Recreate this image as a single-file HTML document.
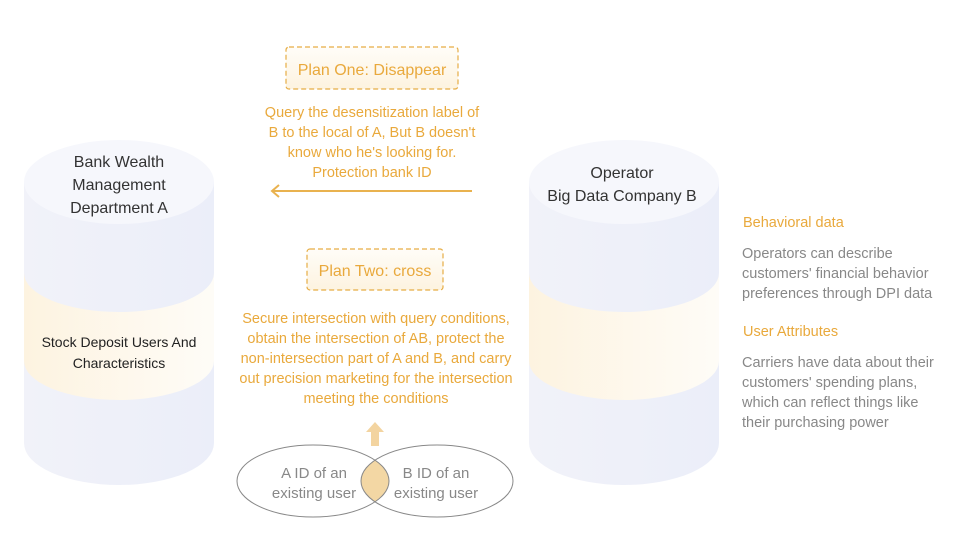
<!DOCTYPE html>
<html><head><meta charset="utf-8"><style>
html,body{margin:0;padding:0;background:#fff;}
svg{display:block;font-family:"Liberation Sans",sans-serif;}
</style></head><body>
<svg width="956" height="560" viewBox="0 0 956 560" xmlns="http://www.w3.org/2000/svg">
<defs>
<linearGradient id="body" x1="0" x2="1" y1="0" y2="0">
<stop offset="0" stop-color="#f1f2f9"/><stop offset="1" stop-color="#ebeef9"/></linearGradient>
<linearGradient id="band" x1="0" x2="1" y1="0" y2="0">
<stop offset="0" stop-color="#fdf3e0"/><stop offset="1" stop-color="#fefcf7"/></linearGradient>
<linearGradient id="box" x1="0" x2="0" y1="0" y2="1">
<stop offset="0" stop-color="#fffdf8"/><stop offset="1" stop-color="#fdf3e0"/></linearGradient>
</defs>
<g>
<path d="M24 182 L24 443 A95 42 0 0 0 214 443 L214 182 Z" fill="url(#body)"/>
<path d="M24 273 A95 39 0 0 0 214 273 L214 361 A95 39 0 0 1 24 361 Z" fill="url(#band)"/>
<ellipse cx="119" cy="182" rx="95" ry="42" fill="#f6f7fc"/>
</g>
<g>
<path d="M529 182 L529 443 A95 42 0 0 0 719 443 L719 182 Z" fill="url(#body)"/>
<path d="M529 273 A95 39 0 0 0 719 273 L719 361 A95 39 0 0 1 529 361 Z" fill="url(#band)"/>
<ellipse cx="624" cy="182" rx="95" ry="42" fill="#f6f7fc"/>
</g>
<g fill="#333" font-size="16" text-anchor="middle">
<text x="119" y="167">Bank Wealth</text>
<text x="119" y="190">Management</text>
<text x="119" y="213">Department A</text>
<text x="622" y="178">Operator</text>
<text x="622" y="201">Big Data Company B</text>
</g>
<g fill="#222" font-size="14" text-anchor="middle">
<text x="119" y="347">Stock Deposit Users And</text>
<text x="119" y="368">Characteristics</text>
</g>
<rect x="286" y="47" width="172" height="42" rx="3" fill="url(#box)" stroke="#e6ad45" stroke-width="1.2" stroke-dasharray="5,3"/>
<rect x="307" y="249" width="136" height="41" rx="3" fill="url(#box)" stroke="#e6ad45" stroke-width="1.2" stroke-dasharray="5,3"/>
<g fill="#e9a93c" text-anchor="middle">
<text x="372" y="75" font-size="16">Plan One: Disappear</text>
<text x="375" y="276" font-size="16">Plan Two: cross</text>
<g font-size="14.5">
<text x="372" y="117">Query the desensitization label of</text>
<text x="372" y="137">B to the local of A, But B doesn't</text>
<text x="372" y="157">know who he's looking for.</text>
<text x="372" y="177">Protection bank ID</text>
<text x="376" y="323">Secure intersection with query conditions,</text>
<text x="376" y="343">obtain the intersection of AB, protect the</text>
<text x="376" y="363">non-intersection part of A and B, and carry</text>
<text x="376" y="383">out precision marketing for the intersection</text>
<text x="376" y="403">meeting the conditions</text>
</g>
</g>
<line x1="272" y1="191" x2="472" y2="191" stroke="#e9b24f" stroke-width="2"/>
<polyline points="279,185 272,191 279,197" fill="none" stroke="#e9b24f" stroke-width="2"/>
<polygon points="375,422 366,432 371,432 371,446 379,446 379,432 384,432" fill="#f3d4a0"/>
<defs><clipPath id="cl"><ellipse cx="313" cy="481" rx="76" ry="36"/></clipPath></defs>
<ellipse cx="437" cy="481" rx="76" ry="36" fill="#f3d7a4" clip-path="url(#cl)"/>
<ellipse cx="313" cy="481" rx="76" ry="36" fill="none" stroke="#888" stroke-width="1"/>
<ellipse cx="437" cy="481" rx="76" ry="36" fill="none" stroke="#888" stroke-width="1"/>
<g fill="#888" font-size="15" text-anchor="middle">
<text x="314" y="478">A ID of an</text>
<text x="314" y="498">existing user</text>
<text x="436" y="478">B ID of an</text>
<text x="436" y="498">existing user</text>
</g>
<g font-size="14.5">
<text x="743" y="227" fill="#e9a93c">Behavioral data</text>
<text x="743" y="336" fill="#e9a93c">User Attributes</text>
<g fill="#888">
<text x="742" y="258">Operators can describe</text>
<text x="742" y="278">customers' financial behavior</text>
<text x="742" y="298">preferences through DPI data</text>
<text x="742" y="367">Carriers have data about their</text>
<text x="742" y="387">customers' spending plans,</text>
<text x="742" y="407">which can reflect things like</text>
<text x="742" y="427">their purchasing power</text>
</g>
</g>
</svg>
</body></html>
